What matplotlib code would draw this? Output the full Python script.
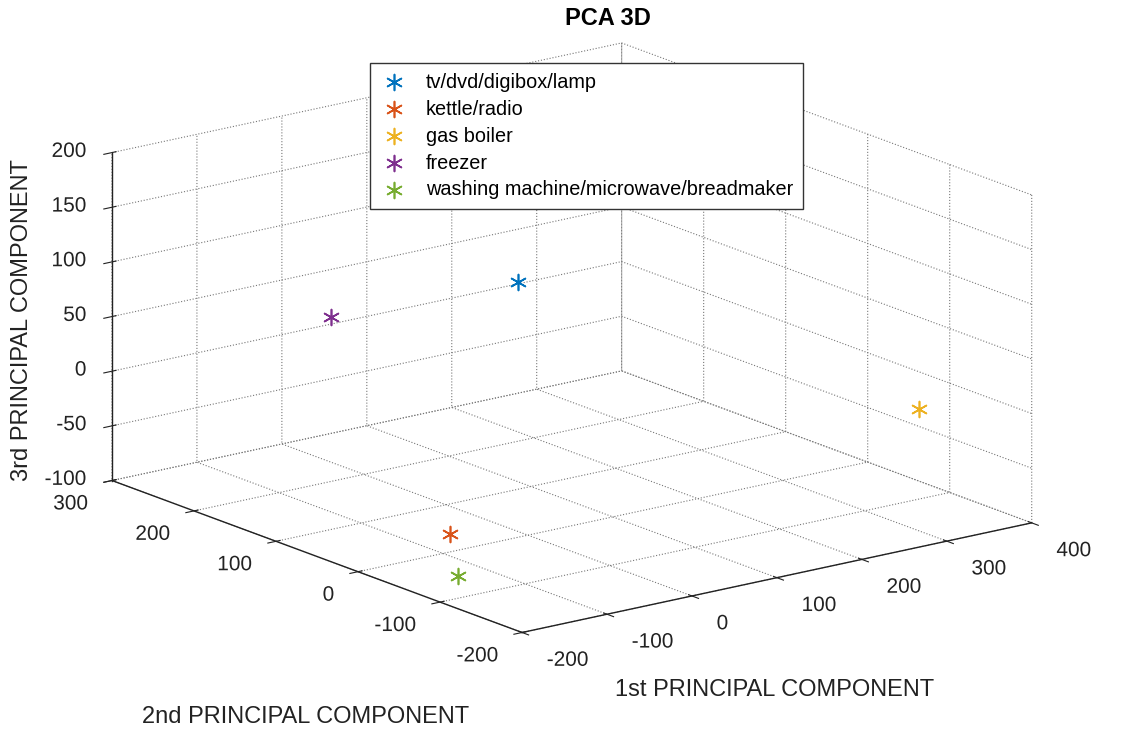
import numpy as np
import matplotlib
matplotlib.use('Agg')
import matplotlib.pyplot as plt
import matplotlib.patheffects as pe

plt.rcParams['font.family'] = ['Liberation Sans', 'DejaVu Sans']
plt.rcParams['axes.unicode_minus'] = False
plt.rcParams['grid.linestyle'] = ':'
plt.rcParams['grid.color'] = '#777777'
plt.rcParams['grid.linewidth'] = 0.8

# PCA scores (1st, 2nd, 3rd component)
labels = ['tv/dvd/digibox/lamp', 'kettle/radio', 'gas boiler', 'freezer',
          'washing machine/microwave/breadmaker']
pc1 = [85, -57, 350, 10, -145]
pc2 = [100, 36, -114, 250, -65]
pc3 = [90, -99, -11, 28, -95]
colors = ['#0072BD', '#D95319', '#EDB120', '#7E2F8E', '#77AC30']

x_ticks = [-200, -100, 0, 100, 200, 300, 400]
y_ticks = [-200, -100, 0, 100, 200, 300]
z_ticks = [-100, -50, 0, 50, 100, 150, 200]

fig = plt.figure(figsize=(11.22, 7.3), dpi=100)
ax = fig.add_axes([0.0, -0.0275, 1.0, 1.1], projection='3d')
ax.set_proj_type('ortho')
ax.view_init(elev=16.4, azim=-127.3)
ax.set_box_aspect((641, 677, 342), zoom=1.2)

asterisk = (6, 2, 0)
for i in range(len(labels)):
    ax.scatter([pc1[i]], [pc2[i]], [pc3[i]], marker=asterisk, s=130,
               color=colors[i], linewidths=1.2, label=labels[i], depthshade=False)

ax.set_xlim(x_ticks[0], x_ticks[-1])
ax.set_ylim(y_ticks[0], y_ticks[-1])
ax.set_zlim(z_ticks[0], z_ticks[-1])
ax.set_xticks(x_ticks)
ax.set_yticks(y_ticks)
ax.set_zticks(z_ticks)

for a in (ax.xaxis, ax.yaxis, ax.zaxis):
    a.set_pane_color((1, 1, 1, 0))
    a.pane.set_edgecolor((1, 1, 1, 0))
    a.line.set_color('#222222')
    a.line.set_linewidth(1.0)
ax.tick_params(labelsize=15, colors='#222222')

# MATLAB-like tick label placement (nudged with an offset path effect)
txt_col = '#222222'
for t in ax.get_xticklabels():
    t.set_ha('left')
    t.set_path_effects([pe.PathPatchEffect(offset=(6.5, 0), facecolor=txt_col, edgecolor='none')])
for t in ax.get_yticklabels():
    t.set_ha('right')
    t.set_path_effects([pe.PathPatchEffect(offset=(-3, 2), facecolor=txt_col, edgecolor='none')])
for t in ax.get_zticklabels():
    t.set_ha('right')
    t.set_path_effects([pe.PathPatchEffect(offset=(7, 6.5), facecolor=txt_col, edgecolor='none')])

# axis titles
fig.text(0.690, 0.055, '1st PRINCIPAL COMPONENT', ha='center', va='center', fontsize=17, color=txt_col)
fig.text(0.272, 0.018, '2nd PRINCIPAL COMPONENT', ha='center', va='center', fontsize=17, color=txt_col)
fig.text(0.020, 0.562, '3rd PRINCIPAL COMPONENT', ha='center', va='center', fontsize=17,
         rotation=90, color=txt_col)

fig.text(0.542, 0.975, 'PCA 3D', ha='center', va='center', fontsize=17, fontweight='bold')
fig.legend(loc='upper left', bbox_to_anchor=(0.33, 0.914), fontsize=14.3,
           frameon=True, fancybox=False, edgecolor='#333333', framealpha=1,
           handlelength=1.4, handletextpad=0.9, borderpad=0.5, labelspacing=0.4,
           borderaxespad=0)

fig.savefig('out.png', dpi=100)
